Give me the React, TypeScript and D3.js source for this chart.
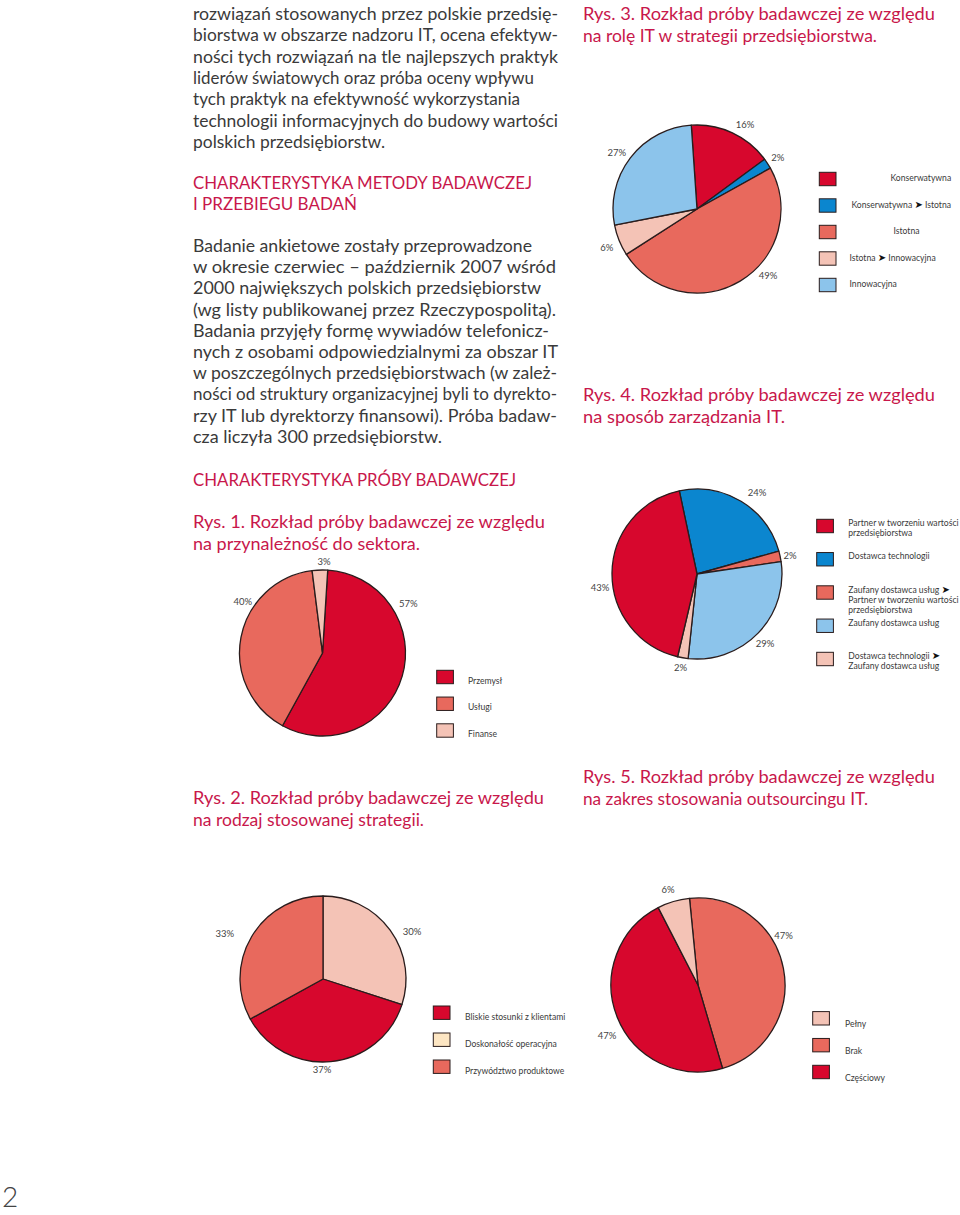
import React from 'react';
import * as d3 from 'd3';

// ---------- colours ----------
const RED = '#d7072d';
const SALMON = '#e8695d';
const PINK = '#f4c3b6';
const BLUE = '#0b86cf';
const LIGHTBLUE = '#8cc4eb';
const CREAM = '#fde6c3';
const HEAD = '#c8174b';
const TEXT = '#3a3a3a';
const LABEL = '#444444';
const OUTLINE = '#2a1c1c';
const FONT = 'Lato, "Open Sans", sans-serif';

// ---------- data ----------
// Rys. 1 – sector
const sectorCategories = [['Przemysł'], ['Usługi'], ['Finanse']];
const sectorValues = [57, 40, 3];
const sectorColors = [RED, SALMON, PINK];
const sectorPieOrder = [0, 1, 2];

// Rys. 2 – strategy
const strategyCategories = [['Bliskie stosunki z klientami'], ['Doskonałość operacyjna'], ['Przywództwo produktowe']];
const strategyValues = [37, 30, 33];
const strategySliceColors = [RED, PINK, SALMON];
const strategyLegendColors = [RED, CREAM, SALMON];
const strategyPieOrder = [1, 0, 2];

// Rys. 3 – role of IT
const roleCategories = [['Konserwatywna'], ['Konserwatywna ➤ Istotna'], ['Istotna'], ['Istotna ➤ Innowacyjna'], ['Innowacyjna']];
const roleValues = [16, 2, 49, 6, 27];
const roleColors = [RED, BLUE, SALMON, PINK, LIGHTBLUE];
const rolePieOrder = [0, 1, 2, 3, 4];

// Rys. 4 – IT management
const mgmtCategories = [
  ['Partner w tworzeniu wartości', 'przedsiębiorstwa'],
  ['Dostawca technologii'],
  ['Zaufany dostawca usług ➤', 'Partner w tworzeniu wartości', 'przedsiębiorstwa'],
  ['Zaufany dostawca usług'],
  ['Dostawca technologii ➤', 'Zaufany dostawca usług'],
];
const mgmtValues = [43, 24, 2, 29, 2];
const mgmtColors = [RED, BLUE, SALMON, LIGHTBLUE, PINK];
const mgmtPieOrder = [1, 2, 3, 4, 0];

// Rys. 5 – outsourcing
const outsCategories = [['Pełny'], ['Brak'], ['Częściowy']];
const outsValues = [6, 47, 47];
const outsColors = [PINK, SALMON, RED];
const outsPieOrder = [1, 2, 0];

// ---------- text ----------
const para1: [string, number][] = [
  ['rozwiązań stosowanych przez polskie przedsię-', 365],
  ['biorstwa w obszarze nadzoru IT, ocena efektyw-', 365],
  ['ności tych rozwiązań na tle najlepszych praktyk', 365],
  ['liderów światowych oraz próba oceny wpływu', 341],
  ['tych praktyk na efektywność wykorzystania', 327],
  ['technologii informacyjnych do budowy wartości', 365],
  ['polskich przedsiębiorstw.', 192],
];
const heading1: [string, number][] = [
  ['CHARAKTERYSTYKA METODY BADAWCZEJ', 339],
  ['I PRZEBIEGU BADAŃ', 164],
];
const para2: [string, number][] = [
  ['Badanie ankietowe zostały przeprowadzone', 339],
  ['w okresie czerwiec – październik 2007 wśród', 363],
  ['2000 największych polskich przedsiębiorstw', 348],
  ['(wg listy publikowanej przez Rzeczypospolitą).', 363],
  ['Badania przyjęły formę wywiadów telefonicz-', 356],
  ['nych z osobami odpowiedzialnymi za obszar IT', 365],
  ['w poszczególnych przedsiębiorstwach (w zależ-', 364],
  ['ności od struktury organizacyjnej byli to dyrekto-', 364],
  ['rzy IT lub dyrektorzy finansowi). Próba badaw-', 364],
  ['cza liczyła 300 przedsiębiorstw.', 249],
];
const heading2: [string, number][] = [['CHARAKTERYSTYKA PRÓBY BADAWCZEJ', 323]];
const rys1: [string, number][] = [['Rys. 1. Rozkład próby badawczej ze względu', 352], ['na przynależność do sektora.', 227]];
const rys2: [string, number][] = [['Rys. 2. Rozkład próby badawczej ze względu', 351], ['na rodzaj stosowanej strategii.', 231]];
const rys3: [string, number][] = [['Rys. 3. Rozkład próby badawczej ze względu', 352], ['na rolę IT w strategii przedsiębiorstwa.', 294]];
const rys4: [string, number][] = [['Rys. 4. Rozkład próby badawczej ze względu', 352], ['na sposób zarządzania IT.', 202]];
const rys5: [string, number][] = [['Rys. 5. Rozkład próby badawczej ze względu', 352], ['na zakres stosowania outsourcingu IT.', 285]];

// ---------- components ----------
function TextBlock({ x, y, lines, step, color, size = 17 }: any) {
  return (
    <g>
      {lines.map(([t, w]: [string, number], i: number) => (
        <text key={i} x={x} y={y + i * step} fill={color} fontSize={size} fontFamily={FONT}
          textLength={w} lengthAdjust="spacingAndGlyphs">{t}</text>
      ))}
    </g>
  );
}

const rad = (d: number) => (d * Math.PI) / 180;

function Pie({ cx, cy, r, values, colors, order, startDeg, labelPos }: any) {
  const items = order.map((i: number) => ({ i, v: values[i] }));
  const pie = d3.pie<any>().value((d: any) => d.v).sort(null)
    .startAngle(rad(startDeg)).endAngle(rad(startDeg) + 2 * Math.PI);
  const arcs = pie(items);
  const arc = d3.arc<any>().innerRadius(0).outerRadius(r);
  return (
    <g transform={`translate(${cx},${cy})`}>
      {arcs.map((a: any) => (
        <path key={a.data.i} d={arc(a) as string} fill={colors[a.data.i]} stroke={OUTLINE} strokeWidth={1.3} strokeLinejoin="round" />
      ))}
      {values.map((v: number, i: number) => {
        const [deg, lr] = labelPos[i];
        const la = d3.arc<any>().innerRadius(lr).outerRadius(lr);
        const [lx, ly] = la.centroid({ startAngle: rad(deg), endAngle: rad(deg) } as any);
        return (
          <text key={i} x={lx} y={ly} textAnchor="middle" dominantBaseline="central" fontSize={9.5}
            fontFamily={FONT} fill={LABEL}>{`${v}%`}</text>
        );
      })}
    </g>
  );
}

function Legend({ x, y0, y1, labelX, labelDx, labelDy, categories, colors, lineH = 10 }: any) {
  const ys = d3.scalePoint<number>().domain(categories.map((_: any, i: number) => i)).range([y0, y1]);
  return (
    <g>
      {categories.map((lines: string[], i: number) => {
        const cy = ys(i) as number;
        const lx = labelX + (labelDx ? labelDx[i] : 0);
        return (
          <g key={i}>
            <rect x={x} y={cy - 6.7} width={16.7} height={13.4} fill={colors[i]} stroke={OUTLINE} strokeWidth={1} />
            <text x={lx} y={cy + labelDy} fontSize={8.6} fontFamily={FONT} fill={TEXT}>
              {lines.map((ln, k) => {
                const parts = ln.split('➤');
                return (
                  <tspan key={k} x={lx} dy={k === 0 ? 0 : lineH}>
                    {parts.map((p, j) => (
                      <React.Fragment key={j}>
                        {j > 0 && <tspan fontFamily="DejaVu Sans" fontSize={10} fill="#111">➤</tspan>}
                        {p}
                      </React.Fragment>
                    ))}
                  </tspan>
                );
              })}
            </text>
          </g>
        );
      })}
    </g>
  );
}

export default function App() {
  return (
    <div style={{ position: 'absolute', left: 0, top: 0, width: 960, height: 1215, background: '#fff' }}>
      <svg width={960} height={1215} viewBox="0 0 960 1215" style={{ display: 'block' }}>
        <rect width={960} height={1215} fill="#fff" />

        {/* Left column text */}
        <TextBlock x={193} y={20} lines={para1} step={21.3} color={TEXT} />
        <TextBlock x={193} y={189} lines={heading1} step={21} color={HEAD} />
        <TextBlock x={193} y={252} lines={para2} step={21.2} color={TEXT} />
        <TextBlock x={193} y={486} lines={heading2} step={21} color={HEAD} />
        <TextBlock x={193} y={528} lines={rys1} step={22} color={HEAD} />
        <TextBlock x={193} y={804} lines={rys2} step={22} color={HEAD} />

        {/* Right column titles */}
        <TextBlock x={583} y={20} lines={rys3} step={22} color={HEAD} />
        <TextBlock x={583} y={401} lines={rys4} step={22} color={HEAD} />
        <TextBlock x={583} y={783} lines={rys5} step={22} color={HEAD} />

        {/* Rys. 1 */}
        <Pie cx={322.5} cy={653} r={83} values={sectorValues} colors={sectorColors} order={sectorPieOrder}
          startDeg={3.6} labelPos={[[60, 99], [303, 95], [1, 92]]} />
        <Legend x={436.7} y0={677} y1={730.5} labelX={468} labelDy={6.5} categories={sectorCategories} colors={sectorColors} />

        {/* Rys. 2 */}
        <Pie cx={323} cy={979} r={83} values={strategyValues} colors={strategySliceColors} order={strategyPieOrder}
          startDeg={0} labelPos={[[180.6, 91], [62, 101], [294.7, 108]]} />
        <Legend x={433.3} y0={1012.7} y1={1066.7} labelX={465} labelDy={7} categories={strategyCategories} colors={strategyLegendColors} />

        {/* Rys. 3 */}
        <Pie cx={697} cy={209} r={84} values={roleValues} colors={roleColors} order={rolePieOrder}
          startDeg={-3.9} labelPos={[[29.7, 97], [57.3, 96], [132.9, 97], [247, 98], [305, 98]]} />
        <Legend x={819.3} y0={179} y1={285} labelX={849.5} labelDx={[41, 2, 44, 0, 0]} labelDy={2} categories={roleCategories} colors={roleColors} />

        {/* Rys. 4 */}
        <Pie cx={697} cy={574} r={85} values={mgmtValues} colors={mgmtColors} order={mgmtPieOrder}
          startDeg={-12} labelPos={[[262, 98], [36.5, 101], [78.5, 95], [135.4, 97], [190, 95]]} />
        <Legend x={816.7} y0={526} y1={659} labelX={848.3} labelDy={0} lineH={10} categories={mgmtCategories} colors={mgmtColors} />

        {/* Rys. 5 */}
        <Pie cx={698} cy={985} r={87} values={outsValues} colors={outsColors} order={outsPieOrder}
          startDeg={-5.6} labelPos={[[342.5, 100], [59.8, 99], [241, 104]]} />
        <Legend x={812.7} y0={1018.3} y1={1072} labelX={845} labelDy={8.5} categories={outsCategories} colors={outsColors} />

        {/* page number */}
        <text x={2} y={1207} fontSize={28} fontFamily={FONT} fontWeight={300} fill="#444">2</text>
      </svg>
    </div>
  );
}
